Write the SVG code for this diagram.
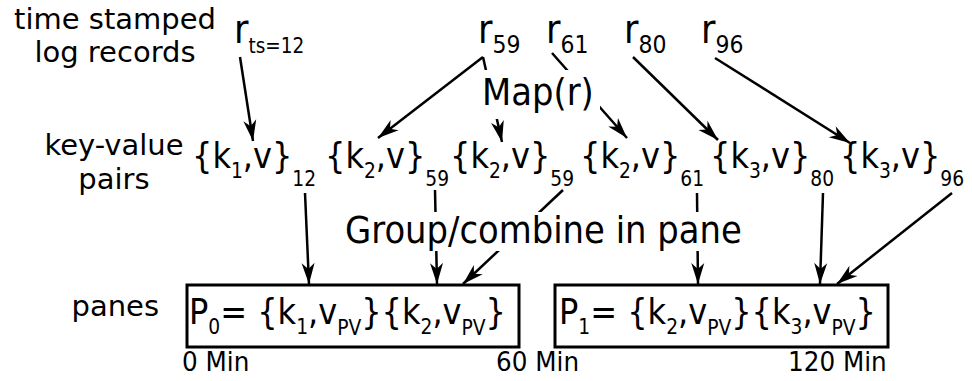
<svg xmlns="http://www.w3.org/2000/svg" width="972" height="381" viewBox="0 0 972 381">
  <style>
    text { font-family: "DejaVu Sans", Verdana, sans-serif; fill: #000; }
    .lbl { font-size: 29px; }
    .rec { font-size: 40px; }
    .rsub { font-size: 25px; }
    .sub { font-size: 21px; }
    .kv { font-size: 36px; }
    .op { font-size: 37px; }
    .tick { font-size: 26px; }
    .conn line { stroke: #000; stroke-width: 2.5; fill: none; marker-end: url(#head); }
    .pane rect { fill: #fff; stroke: #000; stroke-width: 3; }
  </style>
  <defs>
    <marker id="head" markerUnits="userSpaceOnUse" viewBox="-22 -8 24 16" refX="0" refY="0" markerWidth="24" markerHeight="16" orient="auto">
      <path d="M0,0 L-21,-6.5 L-15,0 L-21,6.5 Z" fill="#000"/>
    </marker>
  </defs>
  <rect width="972" height="381" fill="#fff"/>

  <!-- row captions -->
  <g id="caption-records">
    <text class="lbl" x="115" y="29" text-anchor="middle">time stamped</text>
    <text class="lbl" x="115" y="62" text-anchor="middle">log records</text>
  </g>
  <g id="caption-pairs">
    <text class="lbl" x="114" y="155" text-anchor="middle">key-value</text>
    <text class="lbl" x="114" y="189" text-anchor="middle">pairs</text>
  </g>
  <g id="caption-panes">
    <text class="lbl" x="159" y="316" text-anchor="end">panes</text>
  </g>

  <!-- connectors -->
  <g id="connectors" class="conn">
    <line x1="240" y1="57" x2="253" y2="141"/>
    <line x1="483" y1="57" x2="378" y2="138"/>
    <line x1="483" y1="57" x2="502" y2="142"/>
    <line x1="552" y1="53" x2="627" y2="138"/>
    <line x1="633" y1="57" x2="718" y2="140"/>
    <line x1="715" y1="58" x2="850" y2="143"/>
    <line x1="305" y1="193" x2="309" y2="284"/>
    <line x1="435" y1="190" x2="437" y2="284"/>
    <line x1="563" y1="190" x2="463" y2="284"/>
    <line x1="697" y1="193" x2="698" y2="284"/>
    <line x1="823" y1="193" x2="820" y2="284"/>
    <line x1="952" y1="193" x2="837" y2="284"/>
  </g>

  <!-- log records (narrowed glyphs) -->
  <g id="r12"><text class="rec" transform="translate(234,43) scale(0.88,1)">r<tspan class="sub" font-size="23" y="10">ts=12</tspan></text></g>
  <g id="r59"><text class="rec" transform="translate(478,43) scale(0.88,1)">r<tspan class="rsub" y="10">59</tspan></text></g>
  <g id="r61"><text class="rec" transform="translate(546,43) scale(0.88,1)">r<tspan class="rsub" y="10">61</tspan></text></g>
  <g id="r80"><text class="rec" transform="translate(624,43) scale(0.88,1)">r<tspan class="rsub" y="10">80</tspan></text></g>
  <g id="r96"><text class="rec" transform="translate(701,43) scale(0.88,1)">r<tspan class="rsub" y="10">96</tspan></text></g>

  <!-- operation labels (drawn over the connectors they interrupt) -->
  <g id="map">
    <rect x="480" y="70" width="120" height="49" fill="#fff"/>
    <text class="op" transform="translate(482,105) scale(0.915,1)">Map(r)</text>
  </g>
  <g id="group-combine">
    <rect x="343" y="212" width="405" height="39" fill="#fff"/>
    <text class="op" transform="translate(345,243) scale(0.915,1)">Group/combine in pane</text>
  </g>

  <!-- key-value pairs -->
  <g id="kv1"><text class="kv" transform="translate(192,168) scale(0.89,1)">{k<tspan class="sub" y="10">1</tspan><tspan y="0">,v}</tspan><tspan class="sub" y="18">12</tspan></text></g>
  <g id="kv2"><text class="kv" transform="translate(325,168) scale(0.89,1)">{k<tspan class="sub" y="10">2</tspan><tspan y="0">,v}</tspan><tspan class="sub" y="18">59</tspan></text></g>
  <g id="kv3"><text class="kv" transform="translate(450,168) scale(0.89,1)">{k<tspan class="sub" y="10">2</tspan><tspan y="0">,v}</tspan><tspan class="sub" y="18">59</tspan></text></g>
  <g id="kv4"><text class="kv" transform="translate(580,168) scale(0.89,1)">{k<tspan class="sub" y="10">2</tspan><tspan y="0">,v}</tspan><tspan class="sub" y="18">61</tspan></text></g>
  <g id="kv5"><text class="kv" transform="translate(710,168) scale(0.89,1)">{k<tspan class="sub" y="10">3</tspan><tspan y="0">,v}</tspan><tspan class="sub" y="18">80</tspan></text></g>
  <g id="kv6"><text class="kv" transform="translate(840,168) scale(0.89,1)">{k<tspan class="sub" y="10">3</tspan><tspan y="0">,v}</tspan><tspan class="sub" y="18">96</tspan></text></g>

  <!-- panes -->
  <g id="pane0" class="pane">
    <rect x="187" y="285" width="332" height="62"/>
    <text class="kv" transform="translate(189,324) scale(0.89,1)">P<tspan class="sub" y="10">0</tspan><tspan y="0">= {k</tspan><tspan class="sub" y="10">1</tspan><tspan y="0">,v</tspan><tspan class="sub" y="11">PV</tspan><tspan y="0">}{k</tspan><tspan class="sub" y="10">2</tspan><tspan y="0">,v</tspan><tspan class="sub" y="11">PV</tspan><tspan y="0">}</tspan></text>
  </g>
  <g id="pane1" class="pane">
    <rect x="555" y="285" width="333" height="62"/>
    <text class="kv" transform="translate(559,324) scale(0.89,1)">P<tspan class="sub" y="10">1</tspan><tspan y="0">= {k</tspan><tspan class="sub" y="10">2</tspan><tspan y="0">,v</tspan><tspan class="sub" y="11">PV</tspan><tspan y="0">}{k</tspan><tspan class="sub" y="10">3</tspan><tspan y="0">,v</tspan><tspan class="sub" y="11">PV</tspan><tspan y="0">}</tspan></text>
  </g>

  <!-- time axis ticks -->
  <g id="ticks">
    <text class="tick" transform="translate(182,371) scale(0.95,1)">0 Min</text>
    <text class="tick" transform="translate(496,371) scale(0.95,1)">60 Min</text>
    <text class="tick" transform="translate(788,371) scale(0.95,1)">120 Min</text>
  </g>
</svg>
